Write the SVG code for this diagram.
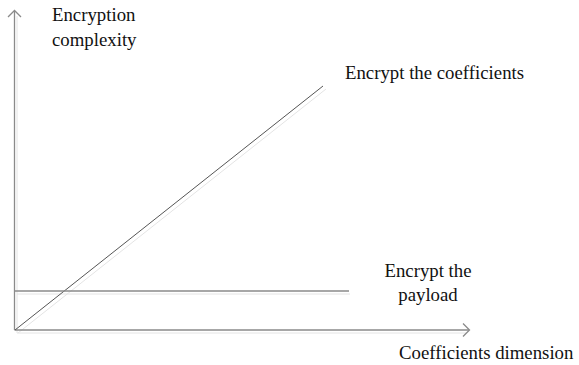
<svg xmlns="http://www.w3.org/2000/svg" width="579" height="365" viewBox="0 0 579 365">
  <style>
    .ax { stroke: #8a8a8a; stroke-width: 1.3; fill: none; }
    .ln { stroke: #555; stroke-width: 1; fill: none; }
    .hl { stroke: #8a8a8a; stroke-width: 1.3; fill: none; }
    .sh { stroke: #e4e4e4; stroke-width: 1; fill: none; }
    .lbl { font-family: "Liberation Serif", "Times New Roman", serif; font-size: 18.8px; fill: #111; }
  </style>
  <rect width="579" height="365" fill="#fff"/>
  <g id="connectors">
    <!-- soft shadow strokes -->
    <line class="sh" x1="17" y1="16" x2="17" y2="333"/>
    <line class="sh" x1="17" y1="333" x2="466" y2="333"/>
    <line class="sh" x1="18" y1="333" x2="326" y2="89"/>
    <line class="sh" x1="17" y1="294" x2="350" y2="294"/>
    <!-- axes -->
    <line class="ax" x1="14.5" y1="11" x2="14.5" y2="330"/>
    <polyline class="ax" points="8,17 14.5,10.5 21,17"/>
    <line class="ax" x1="14.5" y1="330" x2="469" y2="330"/>
    <polyline class="ax" points="463,323.5 469.5,330 463,336.5"/>
    <!-- curves -->
    <line class="ln" x1="15" y1="330" x2="323" y2="86"/>
    <line class="hl" x1="15" y1="291" x2="349" y2="291"/>
  </g>
  <g id="y-label">
    <text class="lbl" x="52" y="21">Encryption</text>
    <text class="lbl" x="52" y="46">complexity</text>
  </g>
  <g id="coefficients-label">
    <text class="lbl" x="345" y="79">Encrypt the coefficients</text>
  </g>
  <g id="payload-label">
    <text class="lbl" x="428" y="277" text-anchor="middle">Encrypt the</text>
    <text class="lbl" x="428" y="301" text-anchor="middle">payload</text>
  </g>
  <g id="x-label">
    <text class="lbl" x="399" y="359">Coefficients dimension</text>
  </g>
</svg>
